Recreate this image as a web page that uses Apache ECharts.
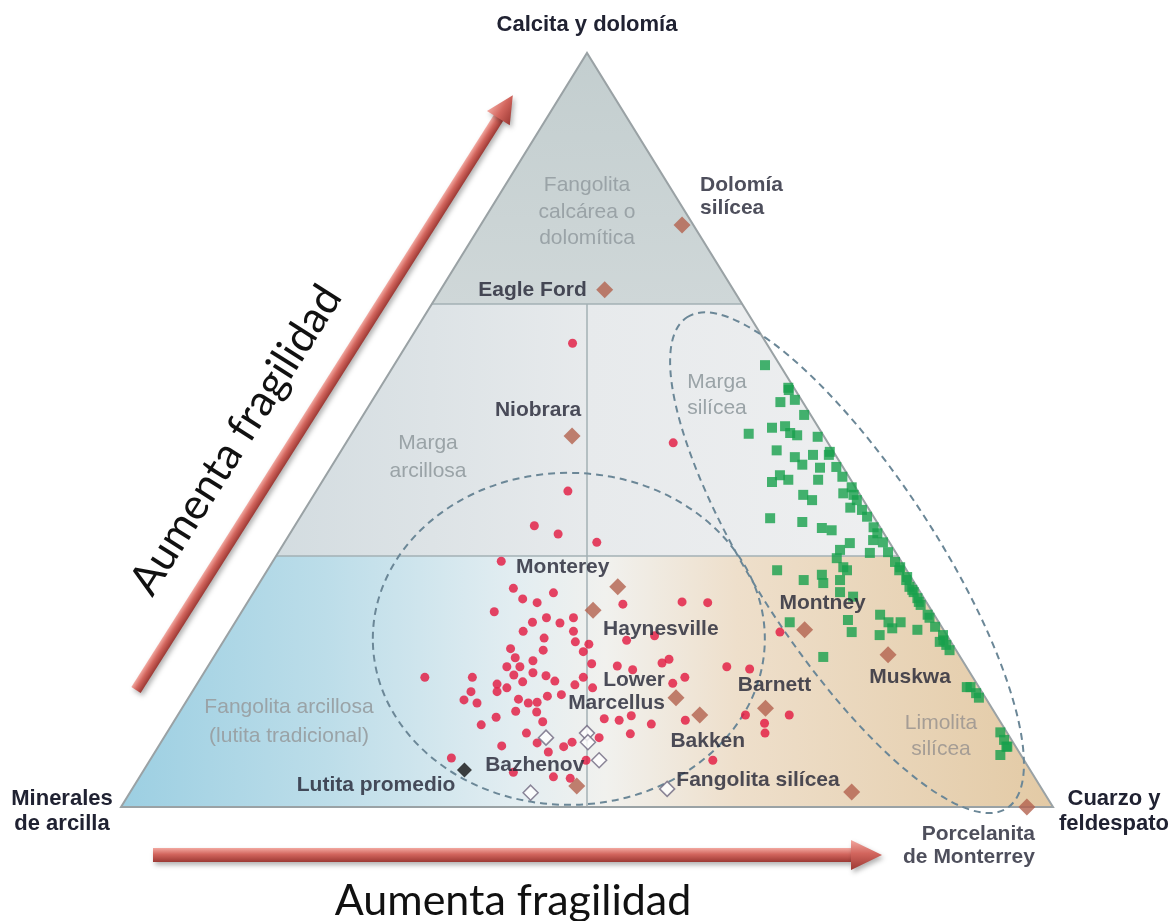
<!DOCTYPE html>
<html>
<head>
<meta charset="utf-8">
<script src="https://cdn.jsdelivr.net/npm/echarts@6/dist/echarts.min.js"></script>
<style>
html, body { margin: 0; padding: 0; background: #fff; }
#chart-box { width: 1172px; height: 921px; }
</style>
</head>
<body>
<div id="chart-box"></div>
<script>
// compositions in percent: [cuarzo y feldespato, calcita y dolomía]; arcilla = 100 - both
const carbonateLines = [33.3, 66.7];

const redPoints = [
    [17.7,61.5],[35.1,48.3],[27.0,41.9],[25.7,37.3],[28.8,36.2],[33.5,35.1],[24.5,32.6],[27.6,29.0],[32.2,28.4],[29.3,27.6],
    [31.1,27.1],[27.1,25.9],[40.4,26.9],[46.6,27.2],[49.4,27.1],[31.9,24.5],[33.1,25.1],[34.9,24.4],[36.0,25.1],[31.5,23.3],
    [36.9,23.3],[34.2,22.4],[37.8,21.9],[39.4,21.6],[39.3,20.6],[43.2,22.1],[45.9,22.7],[34.9,20.8],[31.3,21.0],[32.4,19.8],
    [34.5,19.4],[32.1,18.6],[33.5,18.6],[35.3,17.8],[41.0,19.0],[43.9,18.7],[45.8,18.2],[48.5,19.1],[49.0,19.6],[55.7,18.6],
    [58.3,18.3],[51.9,17.2],[51.0,16.4],[24.0,17.2],[29.1,17.2],[33.4,17.5],[34.8,16.6],[36.9,17.4],[38.2,16.7],[41.0,17.2],
    [32.2,16.3],[32.7,15.3],[33.5,15.8],[29.9,15.3],[29.7,14.2],[31.3,13.8],[35.5,14.3],[36.8,13.8],[37.7,13.9],[38.4,14.7],
    [39.8,14.9],[40.6,16.2],[42.7,15.8],[36.0,12.7],[38.3,12.6],[39.6,11.3],[34.3,11.9],[33.2,10.9],[46.0,11.7],[47.7,11.5],
    [48.7,12.1],[51.4,11.0],[54.8,11.5],[49.8,9.7],[38.6,9.8],[40.4,8.5],[42.2,7.3],[43.5,8.0],[44.1,8.6],[46.7,9.2],
    [36.8,8.1],[32.2,6.5],[39.8,4.6],[44.4,4.0],[46.3,3.8],[46.8,6.2],[60.4,6.2],[60.9,12.2],[63.5,11.1],[64.2,9.8],
    [65.6,12.2],[59.1,23.2]
];

const greenPoints = [
    [39.8,58.6],[43.8,55.6],[44.0,55.3],[43.9,53.7],[45.3,54.0],[47.3,52.0],[44.7,50.3],[46.0,50.5],[47.0,49.6],[47.9,49.3],
    [42.6,49.5],[50.2,49.1],[46.7,47.3],[49.1,46.4],[50.4,45.4],[50.9,46.7],[52.5,47.1],[52.6,46.7],[52.5,45.0],[54.2,45.1],
    [48.3,43.1],[48.7,44.0],[49.9,43.4],[53.1,43.4],[55.5,43.8],[57.2,42.4],[56.7,41.6],[57.9,41.4],[52.5,41.4],[53.8,40.7],
    [58.6,40.7],[58.4,39.7],[59.8,39.4],[60.8,38.5],[50.5,38.3],[54.2,37.8],[56.7,37.0],[57.9,36.7],[62.2,37.1],[63.0,36.3],
    [63.0,35.4],[64.2,35.1],[60.7,35.0],[60.1,34.1],[63.5,33.7],[65.4,33.8],[60.3,33.0],[66.8,32.5],[61.6,31.8],[67.8,31.4],
    [54.7,31.4],[58.2,30.1],[59.8,30.8],[60.5,29.7],[62.1,30.1],[69.2,30.1],[70.0,29.2],[70.8,28.5],[62.9,28.5],[64.6,27.9],
    [72.0,27.2],[73.8,25.5],[62.2,31.4],[67.7,31.8],[69.1,30.5],[70.5,28.8],[71.6,27.7],[72.4,26.8],[59.5,24.5],[65.6,24.8],
    [66.8,23.2],[68.7,25.5],[70.1,24.5],[71.4,24.5],[70.0,22.8],[70.9,23.7],[73.7,23.5],[74.2,25.1],[75.4,23.9],[76.8,22.8],
    [77.2,22.1],[77.8,21.5],[78.5,20.8],[76.9,21.9],[65.4,19.9],[82.8,15.9],[83.2,15.9],[84.2,15.1],[84.8,14.5],[89.4,9.9],
    [90.3,8.9],[91.1,8.0],[90.9,6.9],[91.0,8.0]
];

const sampleNames = ['Dolomía\nsilícea', 'Eagle Ford', 'Niobrara', 'Monterey', 'Haynesville', 'Lower\nMarcellus',
    'Bakken', 'Barnett', 'Montney', 'Muskwa', 'Bazhenov', 'Fangolita silícea', 'Porcelanita\nde Monterrey'];
const sampleQuartz    = [21.6, 17.6, 23.8, 38.7, 37.6, 52.3, 56.0, 62.6, 61.6, 72.2, 47.5, 77.4, 97.2];
const sampleCarbonate = [77.2, 68.6, 49.2, 29.2, 26.1, 14.5, 12.2, 13.1, 23.5, 20.2, 2.8, 2.0, 0];

const hollowPoints = [[41.0,9.2],[45.1,9.8],[45.8,8.6],[48.2,6.2],[43.0,1.9],[57.4,2.4]];

const averageName = 'Lutita promedio';
const averagePoint = [34.4, 4.9];

// label placement, offsets from the diamond centre in px
const labelPlacement = {
    'Dolomía\nsilícea': ['left', [18, -28]],
    'Eagle Ford': ['right', [-18, 0]],
    'Niobrara': ['center', [-34, -26]],
    'Monterey': ['center', [-55, -20]],
    'Haynesville': ['left', [10, 19]],
    'Lower\nMarcellus': ['right', [-11, -6]],
    'Bakken': ['center', [8, 26]],
    'Barnett': ['center', [9, -23]],
    'Montney': ['center', [18, -27]],
    'Muskwa': ['center', [22, 23]],
    'Bazhenov': ['center', [-42, -21]],
    'Fangolita silícea': ['right', [-12, -12]],
    'Porcelanita\nde Monterrey': ['right', [8, 39]]
};

// dashed outlines: centre as composition, radii in px, tilt in degrees
const outlines = [
    { center: [36.9, 22.3], rx: 196, ry: 166, tilt: 0 },
    { center: [61.7, 32.4], rx: 293, ry: 90, tilt: -56.9 }
];

function toXY(p) {
    return [p[0] + p[1] / 2, p[1]];
}

function init() {
    const element = document.getElementById('chart-box');
    const instance = echarts.init(element);
    const LG = echarts.graphic.LinearGradient;

    const topFill = new LG(0, 0, 0, 1, [
        { offset: 0, color: '#c3cecf' }, { offset: 1, color: '#cfd7d8' }
    ]);
    const midFill = new LG(0, 0, 1, 0, [
        { offset: 0, color: '#d3dce0' }, { offset: 0.5, color: '#e7eaec' }, { offset: 1, color: '#eeeff0' }
    ]);
    const lowFill = new LG(0, 0, 1, 0, [
        { offset: 0, color: '#9ccfe2' }, { offset: 0.22, color: '#bcdde9' },
        { offset: 0.42, color: '#e2edf1' }, { offset: 0.52, color: '#f1f1ee' },
        { offset: 0.66, color: '#eedfcb' }, { offset: 1, color: '#e3caa5' }
    ]);
    const arrowFill = new LG(0, 0, 0, 1, [
        { offset: 0, color: '#f2a8a0' }, { offset: 0.45, color: '#d2655d' }, { offset: 1, color: '#9c3934' }
    ]);

    const grayText = { fontFamily: 'Liberation Sans', fontSize: 21, fill: '#9aa3a7', align: 'center', verticalAlign: 'middle', textAlign: 'center', textVerticalAlign: 'middle' };
    const darkText = { fontFamily: 'Liberation Sans', fontSize: 22, fontWeight: 'bold', fill: '#202232', align: 'center', verticalAlign: 'middle', textAlign: 'center', textVerticalAlign: 'middle' };
    const bigText = { fontFamily: 'Lato', fontSize: 43, fill: '#111', align: 'center', verticalAlign: 'middle', textAlign: 'center', textVerticalAlign: 'middle' };

    function arrow(x, y, angle, len, half, head) {
        return {
            type: 'group', x: x, y: y, rotation: angle * Math.PI / 180, silent: true,
            children: [
                { type: 'rect', shape: { x: 0, y: -half, width: len - head, height: half * 2 },
                  style: { fill: arrowFill, shadowBlur: 5, shadowColor: 'rgba(0,0,0,0.3)', shadowOffsetX: 2, shadowOffsetY: 3 } },
                { type: 'polygon', shape: { points: [[len - head - 1, -half - 8], [len, 0], [len - head - 1, half + 8]] },
                  style: { fill: arrowFill, shadowBlur: 5, shadowColor: 'rgba(0,0,0,0.3)', shadowOffsetX: 2, shadowOffsetY: 3 } }
            ]
        };
    }

    function renderRegions(params, api) {
        const lo = carbonateLines[0], hi = carbonateLines[1];
        const pts = (list) => list.map(p => api.coord(p));
        const seg = (a, b) => {
            const p = api.coord(a), q = api.coord(b);
            return { type: 'line', shape: { x1: p[0], y1: p[1], x2: q[0], y2: q[1] },
                     style: { stroke: '#a3b0b5', lineWidth: 1.5 } };
        };
        return {
            type: 'group',
            children: [
                { type: 'polygon', shape: { points: pts([[0, 0], [100, 0], [100 - lo / 2, lo], [lo / 2, lo]]) }, style: { fill: lowFill } },
                { type: 'polygon', shape: { points: pts([[lo / 2, lo], [100 - lo / 2, lo], [100 - hi / 2, hi], [hi / 2, hi]]) }, style: { fill: midFill } },
                { type: 'polygon', shape: { points: pts([[hi / 2, hi], [100 - hi / 2, hi], [50, 100]]) }, style: { fill: topFill } },
                seg([lo / 2, lo], [100 - lo / 2, lo]),
                seg([hi / 2, hi], [100 - hi / 2, hi]),
                seg([50, 0], [50, hi]),
                { type: 'polygon', shape: { points: pts([[0, 0], [100, 0], [50, 100]]) },
                  style: { fill: 'rgba(0,0,0,0)', stroke: '#9aa2a5', lineWidth: 2 } }
            ]
        };
    }

    function renderOutline(params, api) {
        const o = outlines[params.dataIndex];
        const p = api.coord([api.value(0), api.value(1)]);
        return {
            type: 'ellipse', x: p[0], y: p[1], rotation: o.tilt * Math.PI / 180,
            shape: { cx: 0, cy: 0, rx: o.rx, ry: o.ry },
            style: { fill: 'rgba(0,0,0,0)', stroke: '#6b8797', lineWidth: 2, lineDash: [7, 5] }
        };
    }

    const namedData = sampleNames.map((name, i) => {
        const place = labelPlacement[name];
        return {
            name: name,
            value: toXY([sampleQuartz[i], sampleCarbonate[i]]),
            label: { align: place[0], offset: place[1] }
        };
    });

    const labelBase = {
        show: true, position: 'inside', formatter: '{b}', verticalAlign: 'middle',
        color: '#222333', fontFamily: 'Liberation Sans', fontWeight: 'bold', fontSize: 21, lineHeight: 23
    };

    let option = {
        animation: false,
        backgroundColor: '#fff',
        grid: { left: 121, right: 119, top: 53, bottom: 114 },
        xAxis: { type: 'value', min: 0, max: 100, show: false },
        yAxis: { type: 'value', min: 0, max: 100, show: false },
        graphic: [
            { type: 'text', x: 587, y: 25, style: Object.assign({ text: 'Calcita y dolomía' }, darkText) },
            { type: 'text', x: 62, y: 811, style: Object.assign({ text: 'Minerales\nde arcilla', lineHeight: 25 }, darkText) },
            { type: 'text', x: 1114, y: 811, style: Object.assign({ text: 'Cuarzo y\nfeldespato', lineHeight: 25 }, darkText) },
            { type: 'text', x: 587, y: 212, z: 10, style: Object.assign({ text: 'Fangolita\ncalcárea o\ndolomítica', lineHeight: 26.5 }, grayText) },
            { type: 'text', x: 428, y: 457, z: 10, style: Object.assign({ text: 'Marga\narcillosa', lineHeight: 28 }, grayText) },
            { type: 'text', x: 717, y: 395, z: 10, style: Object.assign({ text: 'Marga\nsilícea', lineHeight: 26 }, grayText) },
            { type: 'text', x: 289, y: 722, z: 10, style: Object.assign({ text: 'Fangolita arcillosa\n(lutita tradicional)', lineHeight: 29 }, grayText) },
            { type: 'text', x: 941, y: 736, z: 10, style: Object.assign({}, grayText, { text: 'Limolita\nsilícea', lineHeight: 26, fill: '#a59d95' }) },
            arrow(136, 690, 57.64, 704, 5.5, 26),
            arrow(153, 855, 0, 729, 7, 30),
            { type: 'text', x: 236, y: 440, rotation: 57.64 * Math.PI / 180, style: Object.assign({ text: 'Aumenta fragilidad' }, bigText) },
            { type: 'text', x: 513, y: 901, style: Object.assign({ text: 'Aumenta fragilidad' }, bigText) }
        ],
        series: [
            { type: 'custom', name: 'regiones', z: 1, silent: true, data: [[50, 50]], renderItem: renderRegions },
            { type: 'custom', name: 'contornos', z: 2, silent: true,
              data: outlines.map(o => toXY(o.center)), renderItem: renderOutline },
            { type: 'scatter', name: 'rojo', z: 3, symbol: 'circle', symbolSize: 9,
              itemStyle: { color: '#e2163f' }, data: redPoints.map(toXY) },
            { type: 'scatter', name: 'verde', z: 3, symbol: 'rect', symbolSize: 10,
              itemStyle: { color: '#18a04c' }, data: greenPoints.map(toXY) },
            { type: 'scatter', name: 'hueco', z: 4, symbol: 'diamond', symbolSize: 15,
              itemStyle: { color: '#ffffff', borderColor: '#6f6880', borderWidth: 1.5 }, data: hollowPoints.map(toXY) },
            { type: 'scatter', name: 'muestras', z: 5, symbol: 'diamond', symbolSize: 17,
              itemStyle: { color: '#b3624e' }, label: labelBase, data: namedData },
            { type: 'scatter', name: 'promedio', z: 5, symbol: 'diamond', symbolSize: 15,
              itemStyle: { color: '#111111' },
              label: Object.assign({}, labelBase, { align: 'right', offset: [-9, 15] }),
              data: [{ name: averageName, value: toXY(averagePoint) }] }
        ]
    };

    instance && instance.setOption(option);

    window.onresize = function () {
        instance.resize();
    };
}

init();
</script>
</body>
</html>
